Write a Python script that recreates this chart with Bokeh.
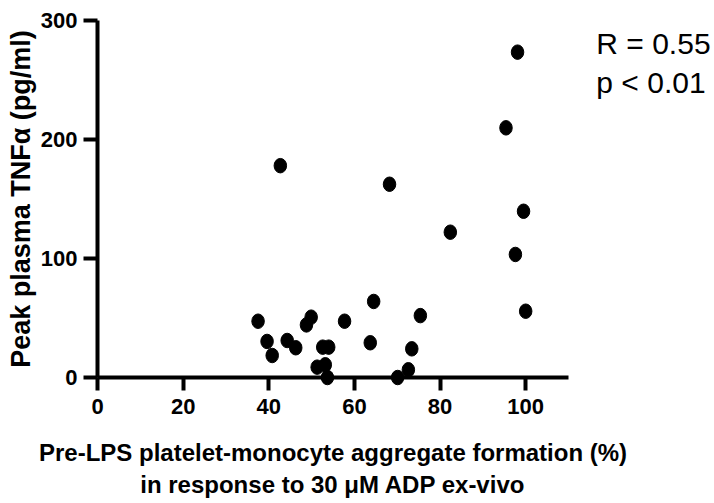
from bokeh.plotting import figure
from bokeh.models import Range1d
from bokeh.core.properties import value
from bokeh.embed import file_html
from bokeh.resources import INLINE

# Pre-LPS platelet-monocyte aggregate formation (%)
pma = [37.5, 39.6, 40.8, 44.3, 46.3, 48.8, 49.9, 57.7, 52.6, 54.0, 51.3, 53.2, 53.7,
       64.5, 75.4, 63.7, 73.4, 72.6, 70.1,
       98.1, 95.4, 99.5, 82.4, 97.6, 100.0,
       68.2, 42.7]
# Peak plasma TNFa (pg/ml)
tnf = [47.3, 30.3, 18.5, 31.1, 25.0, 44.2, 50.7, 47.3, 25.5, 25.5, 8.7, 10.7, 0.0,
       63.9, 52.0, 29.2, 24.1, 6.5, 0.0,
       273.4, 209.8, 139.7, 122.1, 103.4, 55.7,
       162.4, 178.0]

x_ticks = [0, 20, 40, 60, 80, 100]
y_ticks = [0, 100, 200, 300]
stats = ["R = 0.55", "p < 0.01"]

FONT = "Liberation Sans"
X_MAX, Y_MAX = 110, 300

p = figure(width=714, height=503, output_backend="svg", toolbar_location=None,
           x_range=Range1d(0, X_MAX), y_range=Range1d(0, Y_MAX),
           min_border_left=97, min_border_right=146, min_border_top=20,
           min_border_bottom=126)
p.outline_line_color = None
p.grid.visible = False
p.background_fill_color = "white"
p.border_fill_color = "white"

p.ellipse(x=pma, y=tnf, width=12.5, height=14.5, width_units="screen",
          height_units="screen", fill_color="black", line_color="black",
          level="overlay")

for ax in (p.xaxis[0], p.yaxis[0]):
    ax.axis_line_width = 4
    ax.axis_line_color = "black"
    ax.major_tick_line_width = 4
    ax.major_tick_line_color = "black"
    ax.major_tick_in = 0
    ax.minor_tick_line_color = None
    ax.major_label_text_font = FONT
    ax.major_label_text_font_style = "bold"
    ax.major_label_text_font_size = "22px"
    ax.major_label_text_color = "black"
    ax.axis_label_text_font = FONT
    ax.axis_label_text_font_style = "bold"
    ax.axis_label_text_color = "black"

p.xaxis.ticker = x_ticks
p.yaxis.ticker = y_ticks
p.xaxis.major_tick_out = 13
p.yaxis.major_tick_out = 14
p.xaxis.major_label_standoff = 8
p.yaxis.major_label_standoff = 6

p.xaxis.axis_label = "Pre-LPS platelet-monocyte aggregate formation (%)\nin response to 30 μM ADP ex-vivo"
p.xaxis.axis_label_text_font_size = "24px"
p.xaxis.axis_label_text_line_height = 1.2
p.xaxis.axis_label_standoff = 22
p.yaxis.axis_label = "Peak plasma TNFα (pg/ml)"
p.yaxis.axis_label_text_font_size = "27px"
p.yaxis.axis_label_standoff = 2

stat_x = [X_MAX + 6.5, X_MAX + 6.5]
stat_y = [Y_MAX - 19.3, Y_MAX - 52.1]
p.text(x=stat_x, y=stat_y, text=stats, text_font=value(FONT),
       text_font_size="30px", text_color="black", text_baseline="alphabetic",
       level="overlay")

open("out.html", "w").write(file_html(p, INLINE))
